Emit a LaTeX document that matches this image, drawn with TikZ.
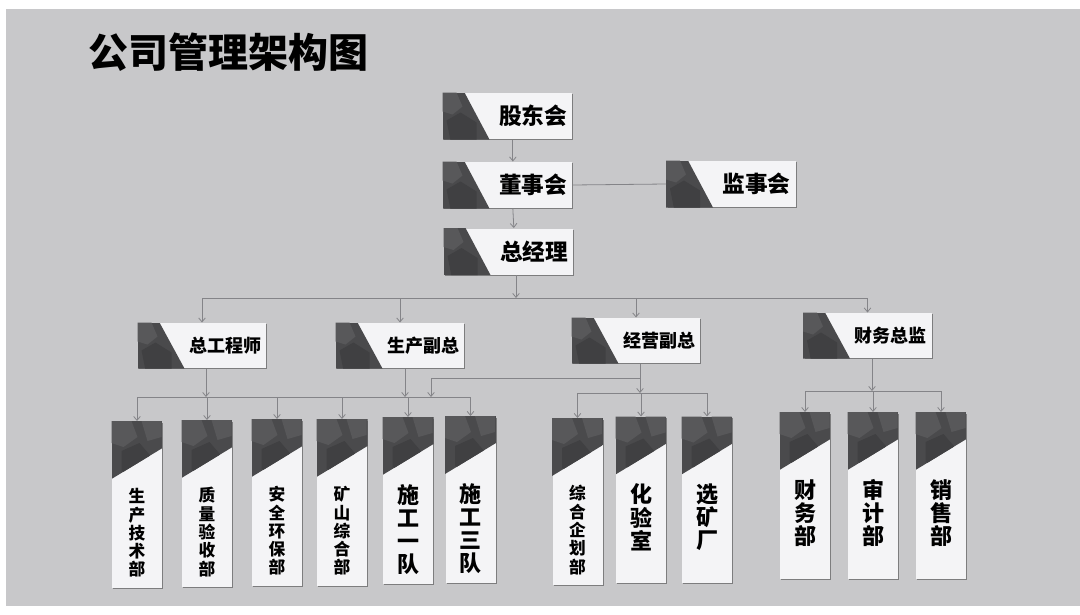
\documentclass[tikz,border=0pt]{standalone}
\usepackage{fontspec}
\setmainfont{Noto Sans CJK SC}
\usetikzlibrary{calc,arrows.meta,shadows}

\definecolor{bggray}{RGB}{200,200,202}
\definecolor{linegray}{RGB}{132,132,136}
\definecolor{boxwhite}{RGB}{244,244,246}
\definecolor{darkpart}{RGB}{74,74,76}
\definecolor{patchlight}{RGB}{88,88,90}
\definecolor{patchdark}{RGB}{64,64,66}

\tikzset{every picture/.style={line width=0.75pt}}
\tikzset{
	headbox/.style={fill=boxwhite, minimum width=96.75pt, minimum height=34.5pt, text width=89.25pt, inner sep=3.75pt, align=right,
		font=\fontsize{17pt}{20pt}\selectfont\bfseries,
		drop shadow={shadow xshift=0.8pt, shadow yshift=-0.8pt, fill=black!80, opacity=0.5}},
	subbox/.style={headbox, minimum width=96pt, minimum height=33.75pt, text width=88.5pt, font=\fontsize{13.5pt}{16pt}\selectfont\bfseries},
	tallbox/.style={fill=boxwhite, minimum width=37.5pt, minimum height=124.5pt, inner sep=0pt,
		drop shadow={shadow xshift=0.8pt, shadow yshift=-0.8pt, fill=black!80, opacity=0.5}},
	tallsmall/.style={inner sep=0pt, anchor=north, align=center, font=\fontsize{12.5pt}{13.7pt}\selectfont\bfseries},
	talllarge/.style={inner sep=0pt, anchor=north, align=center, font=\fontsize{16.5pt}{17.3pt}\selectfont\bfseries},
	link/.style={draw=linegray, line width=0.6pt},
	conn/.style={link, -{Straight Barb[length=3pt,width=5pt]}},
}

\begin{document}
\begin{tikzpicture}[x=0.75pt,y=0.75pt,yscale=-1,xscale=1]
	\useasboundingbox (0,0) rectangle (1080,614);
	%background of the scan
	\fill[white] (0,0) rectangle (1080,614);
	\fill[bggray] (6,9) rectangle (1080,606);

	% Title
	\node[anchor=west, inner sep=0pt, font=\fontsize{30pt}{36pt}\selectfont\bfseries] (title) at (88,52) {公司管理架构图};

	% top level
	\node[headbox] (gudong) at (507.5,116) {股东会};
	\node[headbox] (dongshi) at (507.5,185) {董事会};
	\node[headbox] (jianshi) at (731,184) {监事会};
	\node[headbox] (zongjingli) at (508.5,251.5) {总经理};

	% second level
	\node[subbox] (zonggong) at (202,345.5) {总工程师};
	\node[subbox] (shengchan) at (400,345.5) {生产副总};
	\node[subbox] (jingying) at (636,340.5) {经营副总};
	\node[subbox] (caiwu) at (867.5,335.5) {财务总监};

	% departments
	\node[tallbox] (dep1) at (137,504.5) {};
	\node[tallbox] (dep2) at (207,503.5) {};
	\node[tallbox] (dep3) at (277,502.5) {};
	\node[tallbox] (dep4) at (342,502.5) {};
	\node[tallbox] (dep5) at (408,500.5) {};
	\node[tallbox] (dep6) at (470.5,499.5) {};
	\node[tallbox] (dep7) at (577.5,501.5) {};
	\node[tallbox] (dep8) at (641,500) {};
	\node[tallbox] (dep9) at (707,500) {};
	\node[tallbox] (dep10) at (805,495.5) {};
	\node[tallbox] (dep11) at (873,495.5) {};
	\node[tallbox] (dep12) at (941,495.5) {};

	%dark corner of the wide boxes
	\foreach \n in {gudong,dongshi,jianshi,zongjingli,zonggong,shengchan,jingying,caiwu} {
		\begin{scope}
			\clip (\n.north west) -- ($(\n.north west)+(22,0)$) -- ($(\n.south west)+(47,0)$) -- (\n.south west) -- cycle;
			\fill[darkpart] (\n.north west) rectangle ($(\n.south west)+(48,0)$);
			\fill[patchlight] (\n.north west) -- ++(14,0) -- ++(6,14) -- ++(-10,8) -- ++(-10,-3) -- cycle;
			\fill[patchdark] ($(\n.north west)+(4,28)$) -- ++(14,-8) -- ++(16,10) -- ++(0,18) -- ++(-26,0) -- cycle;
		\end{scope}
	}
	%dark top of the departments
	\foreach \i in {1,...,12} {
		\begin{scope}
			\clip (dep\i.north west) -- (dep\i.north east) -- ($(dep\i.north east)+(0,27)$) -- ($(dep\i.north west)+(0,58)$) -- cycle;
			\fill[darkpart] (dep\i.north west) rectangle ($(dep\i.north east)+(0,60)$);
			\fill[patchlight] (dep\i.north west) -- ++(20,0) -- ++(6,16) -- ++(-14,10) -- ++(-12,-4) -- cycle;
			\fill[patchlight] ($(dep\i.north west)+(30,0)$) -- ++(20,0) -- ++(0,16) -- ++(-14,4) -- cycle;
			\fill[patchdark] ($(dep\i.north west)+(10,30)$) -- ++(18,-8) -- ++(12,14) -- ++(-14,20) -- ++(-16,-6) -- cycle;
		\end{scope}
	}

	% department names
	\foreach \i/\s/\t in {1/tallsmall/{生\\产\\技\\术\\部}, 2/tallsmall/{质\\量\\验\\收\\部}, 3/tallsmall/{安\\全\\环\\保\\部},
		4/tallsmall/{矿\\山\\综\\合\\部}, 5/talllarge/{施\\工\\一\\队}, 6/talllarge/{施\\工\\三\\队},
		7/tallsmall/{综\\合\\企\\划\\部}, 8/talllarge/{化\\验\\室}, 9/talllarge/{选\\矿\\厂},
		10/talllarge/{财\\务\\部}, 11/talllarge/{审\\计\\部}, 12/talllarge/{销\\售\\部}}
		\node[\s] (lab\i) at ($(dep\i.north)+(0,67)$) {\t};

	% connectors
	\coordinate (bus0) at (516,298);
	\coordinate (bus1) at (206,397);
	\coordinate (jyleft) at (431,378);
	\coordinate (bus2) at (640,393);
	\coordinate (bus3) at (872,391);

	\draw[conn] ([xshift=4pt]gudong.south) -- ([xshift=4pt]dongshi.north);
	\draw[conn] ([xshift=4pt]dongshi.south) -- ([xshift=4pt]zongjingli.north);
	\draw[link] (dongshi.east) -- (jianshi.west);

	\draw[conn] (zongjingli.south -| bus0) -- (bus0);
	\draw[link] (zonggong.north |- bus0) -- (caiwu.north |- bus0);
	\foreach \n in {zonggong,shengchan,jingying,caiwu}
		\draw[conn] (\n.north |- bus0) -- (\n.north);

	\draw[conn] (zonggong.south -| bus1) -- (bus1);
	\draw[conn] ([xshift=3.75pt]shengchan.south) -- ([xshift=3.75pt]shengchan.south |- bus1);
	\draw[conn] (jingying.south -| bus2) |- (jyleft) -- (jyleft |- bus1);
	\draw[link] (dep1.north |- bus1) -- (dep6.north |- bus1);
	\foreach \i in {1,...,6}
		\draw[conn] (dep\i.north |- bus1) -- (dep\i.north);

	\draw[conn] (jingying.south -| bus2) -- (bus2);
	\draw[link] (dep7.north |- bus2) -- (dep9.north |- bus2);
	\foreach \i in {7,8,9}
		\draw[conn] (dep\i.north |- bus2) -- (dep\i.north);

	\draw[conn] (caiwu.south -| bus3) -- (bus3);
	\draw[link] (dep10.north |- bus3) -- (dep12.north |- bus3);
	\foreach \i in {10,11,12}
		\draw[conn] (dep\i.north |- bus3) -- (dep\i.north);

\end{tikzpicture}
\end{document}
